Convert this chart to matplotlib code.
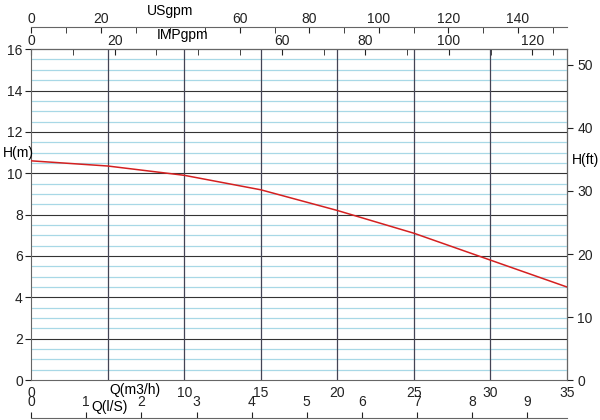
import matplotlib
matplotlib.use("Agg")
import matplotlib.pyplot as plt
import numpy as np

plt.rcParams['font.family'] = ['Liberation Sans', 'DejaVu Sans']
plt.rcParams['font.size'] = 10

q = [0, 5, 10, 15, 20, 25, 30, 35]
h = [10.6, 10.35, 9.9, 9.2, 8.2, 7.1, 5.8, 4.5]
q_ticks = [0, 10, 15, 20, 25, 30, 35]
gpm_ticks = [0, 20, 60, 80, 100, 120, 140]
imp_ticks = [0, 20, 60, 80, 100, 120]
ls_ticks = [0, 1, 2, 3, 4, 5, 6, 7, 8, 9]
ft_ticks = [0, 10, 20, 30, 40, 50]

fig = plt.figure(figsize=(6, 4.2), dpi=100)
ax = fig.add_axes([0.052, 0.095, 0.893, 0.788])
ax.set_xlim(0, 35)
ax.set_ylim(0, 16)

for y in np.arange(0.5, 16, 0.5):
    if y % 2 != 0:
        ax.axhline(y, color='#a8d8e6', lw=0.9, zorder=1)
for y in range(2, 16, 2):
    ax.axhline(y, color='#333333', lw=0.8, zorder=2)
for x in range(5, 35, 5):
    ax.axvline(x, color='#444455', lw=0.9, zorder=2)

ax.plot(q, h, color='#d42020', lw=1.1, zorder=3)

ax.set_xticks(q_ticks)
ax.set_yticks(range(0, 17, 2))
ax.tick_params(axis='x', length=0, pad=4, colors='#222222')
ax.tick_params(axis='y', length=4, pad=2, colors='#222222')
for s in ax.spines.values():
    s.set_color('#666666')
    s.set_linewidth(0.8)

axr = ax.secondary_yaxis('right', functions=(lambda m: m * 3.281, lambda f: f / 3.281))
axr.set_yticks(ft_ticks)
axr.tick_params(length=4, colors='#222222')

imp = ax.secondary_xaxis('top', functions=(lambda m: m * 3.666, lambda g: g / 3.666))
imp.set_xticks(imp_ticks)
imp.set_xticks([10, 30, 40, 50, 70, 90, 110, 125], minor=True)
imp.tick_params(which='both', direction='in', length=4, pad=1, colors='#222222')

us = ax.secondary_xaxis(1.066, functions=(lambda m: m * 4.403, lambda g: g / 4.403))
us.set_xticks(gpm_ticks)
us.set_xticks([10, 30, 40, 50, 70, 90, 110, 130, 150], minor=True)
us.tick_params(which='both', direction='in', length=4, pad=1, colors='#222222')
us.spines['top'].set_color('#666666')

ls = ax.secondary_xaxis(-0.115, functions=(lambda m: m / 3.6, lambda l: l * 3.6))
ls.set_xticks(ls_ticks)
ls.tick_params(direction='in', length=4, pad=-17, colors='#222222')
ls.spines['bottom'].set_color('#666666')

fig.text(0.005, 0.625, 'H(m)', fontsize=10)
fig.text(0.953, 0.61, 'H(ft)', fontsize=10)
fig.text(0.183, 0.062, 'Q(m3/h)', fontsize=10)
fig.text(0.152, 0.022, 'Q(l/S)', fontsize=10)
fig.text(0.245, 0.965, 'USgpm', fontsize=10)
fig.text(0.262, 0.908, 'IMPgpm', fontsize=10)

fig.savefig('out.png', dpi=100)
